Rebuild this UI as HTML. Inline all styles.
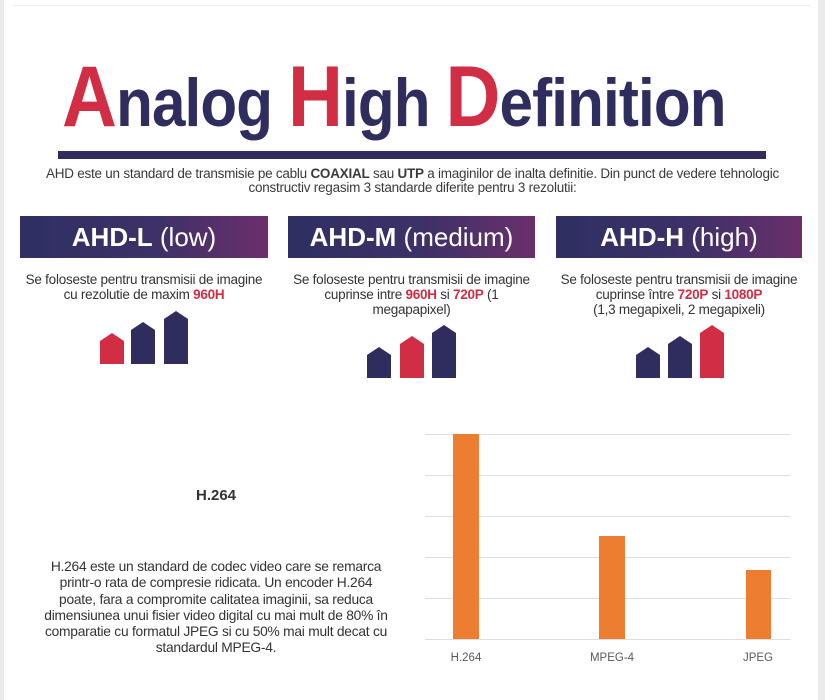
<!DOCTYPE html>
<html><head><meta charset="utf-8"><style>
body{margin:0;width:825px;height:700px;background:#fff;position:relative;overflow:hidden;font-family:"Liberation Sans",sans-serif;color:#3a3a3a}
.a{position:absolute}
.c{text-align:center;white-space:nowrap}
.box{position:absolute;top:216px;height:42px;background:linear-gradient(90deg,#2e2f62,#3d3168 55%,#6b2f6b);color:#fff;font-size:26px;line-height:42px;text-align:center;white-space:nowrap}
.d{position:absolute;top:272px;font-size:13.5px;line-height:15px;text-align:center;color:#333;white-space:nowrap;letter-spacing:-0.25px}
.r{color:#d12d45;font-weight:bold}
.t{position:absolute;left:62px;top:52px;white-space:nowrap;font-weight:bold;color:#2e2d5e;font-size:68px;line-height:90px;transform:scaleX(0.885);transform-origin:0 0;letter-spacing:-1px}
.t span{color:#d12d45;font-size:86px}
</style></head><body>
<div class="a" style="left:0;top:0;width:4px;height:700px;background:#ebebeb"></div>
<div class="a" style="left:818px;top:0;width:7px;height:700px;background:#ebebeb"></div>
<div class="a" style="left:13px;top:5px;width:797px;height:1px;background:#eeeeee"></div>
<div class="t"><span>A</span>nalog <span>H</span>igh <span>D</span>efinition</div>
<div class="a" style="left:58px;top:151px;width:708px;height:8px;background:#2e2d5e"></div>
<div class="a c" style="left:20px;top:167px;width:785px;font-size:13.5px;line-height:14px;letter-spacing:-0.25px">AHD este un standard de transmisie pe cablu <b>COAXIAL</b> sau <b>UTP</b> a imaginilor de inalta definitie. Din punct de vedere tehnologic<br>constructiv regasim 3 standarde diferite pentru 3 rezolutii:</div>
<div class="box" style="left:20px;width:248px"><b>AHD-L</b> (low)</div>
<div class="box" style="left:288px;width:247px"><b>AHD-M</b> (medium)</div>
<div class="box" style="left:556px;width:246px"><b>AHD-H</b> (high)</div>
<div class="d" style="left:20px;width:248px">Se foloseste pentru transmisii de imagine<br>cu rezolutie de maxim <span class="r">960H</span></div>
<div class="d" style="left:288px;width:247px">Se foloseste pentru transmisii de imagine<br>cuprinse intre <span class="r">960H</span> si <span class="r">720P</span> (1<br>megapapixel)</div>
<div class="d" style="left:556px;width:246px">Se foloseste pentru transmisii de imagine<br>cuprinse între <span class="r">720P</span> si <span class="r">1080P</span><br>(1,3 megapixeli, 2 megapixeli)</div>
<svg class="a" style="left:0;top:0" width="825" height="400">
<polygon points="100,364 100,341 112,333 124,341 124,364" fill="#d12d45"/>
<polygon points="131,364 131,330 143,322 155,330 155,364" fill="#2e2d5e"/>
<polygon points="164,364 164,319 176,311 188,319 188,364" fill="#2e2d5e"/>
<polygon points="367,378 367,355 379,347 391,355 391,378" fill="#2e2d5e"/>
<polygon points="400,378 400,344 412,336 424,344 424,378" fill="#d12d45"/>
<polygon points="432,378 432,333 444,325 456,333 456,378" fill="#2e2d5e"/>
<polygon points="636,378 636,355 648,347 660,355 660,378" fill="#2e2d5e"/>
<polygon points="668,378 668,344 680,336 692,344 692,378" fill="#2e2d5e"/>
<polygon points="700,378 700,333 712,325 724,333 724,378" fill="#d12d45"/>
</svg>
<div class="a c" style="left:116px;top:487px;width:200px;font-size:15px;font-weight:bold;color:#333">H.264</div>
<div class="a c" style="left:6px;top:559px;width:420px;font-size:13.8px;line-height:16.3px;color:#333;letter-spacing:-0.25px">H.264 este un standard de codec video care se remarca<br>printr-o rata de compresie ridicata. Un encoder H.264<br>poate, fara a compromite calitatea imaginii, sa reduca<br>dimensiunea unui fisier video digital cu mai mult de 80% în<br>comparatie cu formatul JPEG si cu 50% mai mult decat cu<br>standardul MPEG-4.</div>
<svg class="a" style="left:0;top:0" width="825" height="700">
<g stroke="#dedede" stroke-width="1">
<line x1="425" y1="434.5" x2="790" y2="434.5"/><line x1="425" y1="475.5" x2="790" y2="475.5"/>
<line x1="425" y1="516.5" x2="790" y2="516.5"/><line x1="425" y1="557.5" x2="790" y2="557.5"/>
<line x1="425" y1="598.5" x2="790" y2="598.5"/><line x1="425" y1="639.5" x2="790" y2="639.5"/>
</g>
<rect x="453" y="434" width="26" height="205" fill="#ed7d31"/>
<rect x="599" y="536" width="26" height="103" fill="#ed7d31"/>
<rect x="746" y="570" width="25" height="69" fill="#ed7d31"/>
<g font-family="Liberation Sans, sans-serif" font-size="11.5" fill="#595959" text-anchor="middle">
<text x="466" y="661">H.264</text><text x="612" y="661">MPEG-4</text><text x="758" y="661">JPEG</text>
</g>
</svg>
</body></html>
